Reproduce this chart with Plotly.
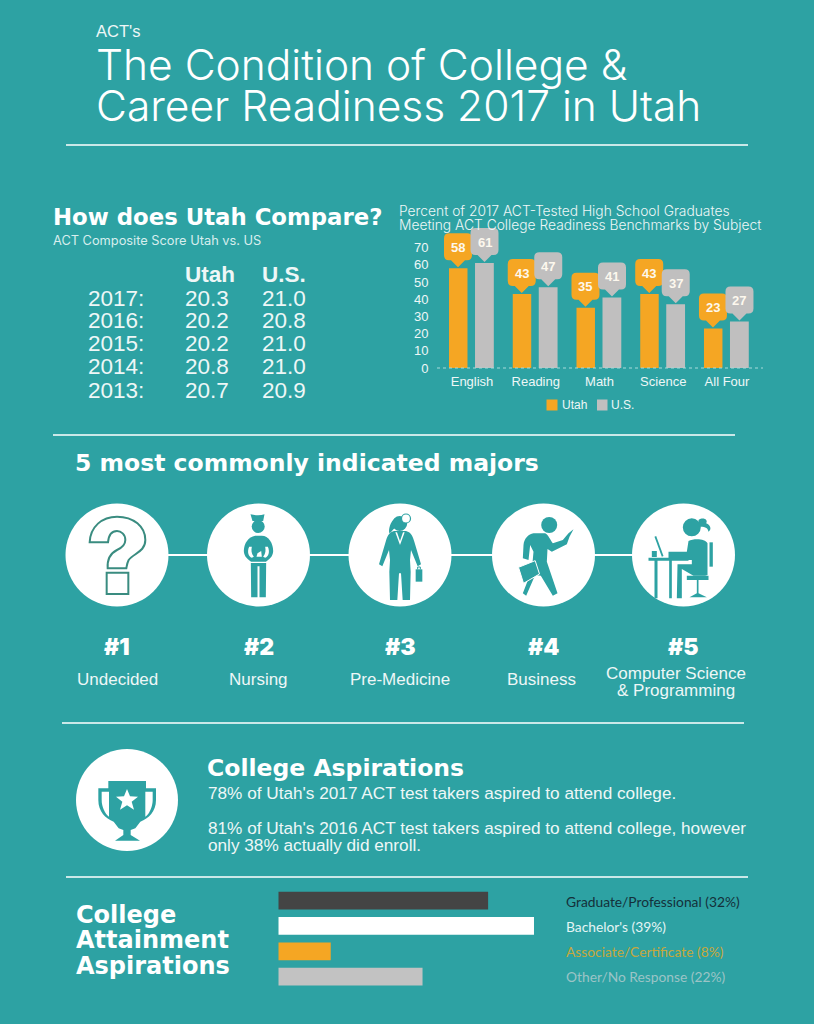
#!/usr/bin/env python3
import re
import plotly.graph_objects as go

# composite scores
years = ["2017:", "2016:", "2015:", "2014:", "2013:"]
utah_scores = ["20.3", "20.2", "20.2", "20.8", "20.7"]
us_scores = ["21.0", "20.8", "21.0", "21.0", "20.9"]

# benchmarks bar chart
subjects = ["English", "Reading", "Math", "Science", "All Four"]
utah_pct = [58, 43, 35, 43, 23]
us_pct = [61, 47, 41, 37, 27]

# majors
major_ranks = ["#1", "#2", "#3", "#4", "#5"]
major_names = [["Undecided"], ["Nursing"], ["Pre-Medicine"], ["Business"],
               ["Computer Science", "& Programming"]]

# attainment bars
attain_names = ["Graduate/Professional", "Bachelor's", "Associate/Certificate", "Other/No Response"]
attain_pct = [32, 39, 8, 22]
attain_colors = ["#444444", "#ffffff", "#f5a623", "#c2c2c2"]
attain_text = ["#14303a", "#e4f5f5", "#c6a83c", "#9cc4c6"]

TEAL = "#2da2a3"
ORANGE = "#f5a623"
GREY = "#c0bfbf"
SOFT = "#eef7f7"
W, H = 814, 1024
HEAD = "DejaVu Sans"
THIN = "Inter"
BODY = "Liberation Sans"


def dom_x(a, b):
    return [a / W, b / W]


def dom_y(top, bottom):
    return [(H - bottom) / H, (H - top) / H]


fig = go.Figure()

# upper chart, y: 1.72px per unit above the baseline at 368px
fig.add_trace(go.Bar(x=subjects, y=utah_pct, name="Utah", marker_color=ORANGE, marker_line_width=0,
                     width=0.29, offset=-0.361, xaxis="x2", yaxis="y2"))
fig.add_trace(go.Bar(x=subjects, y=us_pct, name="U.S.", marker_color=GREY, marker_line_width=0,
                     width=0.295, offset=0.047, xaxis="x2", yaxis="y2"))
# lower chart
fig.add_trace(go.Bar(x=attain_pct, y=attain_names, orientation="h", marker_color=attain_colors,
                     marker_line_width=0, width=0.7, xaxis="x3", yaxis="y3"))

shapes = []
notes = []


def text(x, y, s, size, color=SOFT, font=BODY, bold=False, anchor="left", weight=None):
    # annotations carry about 2px of padding
    notes.append(dict(x=x - 2 if anchor == "left" else x, y=y, xref="x", yref="y", text=s,
                      showarrow=False, xanchor=anchor, yanchor="middle",
                      font=dict(family=font, size=size, color=color,
                                weight=weight or (700 if bold else 400))))


def rule(x0, x1, y, width=1.5):
    shapes.append(dict(type="line", xref="x", yref="y", x0=x0, x1=x1, y0=y, y1=y,
                       line=dict(color="white", width=width)))


def place(d, cx, cy):
    # path is written in 3x px around the icon centre
    nums = iter(range(100000))

    def sub(m):
        off = cx if next(nums) % 2 == 0 else cy
        return f"{off + float(m.group()) / 3:.2f}"
    return re.sub(r"-?\d+\.?\d*", sub, d)


def draw(d, cx, cy, fill=TEAL, line=None, lw=0):
    shapes.append(dict(type="path", xref="x", yref="y", path=place(d, cx, cy),
                       fillcolor=fill, line=dict(color=line or "rgba(0,0,0,0)", width=lw)))


def dot(cx, cy, r, fill=TEAL, line=None, lw=0):
    shapes.append(dict(type="circle", xref="x", yref="y", x0=cx - r, x1=cx + r, y0=cy - r, y1=cy + r,
                       fillcolor=fill, line=dict(color=line or "rgba(0,0,0,0)", width=lw)))


# header
text(96, 31, "ACT's", 16.5)
text(96, 64, "The Condition of College &amp;", 42.5, color="white", font=THIN, weight=300)
text(96, 105, "Career Readiness 2017 in Utah", 42.5, color="white", font=THIN, weight=300)
rule(66, 748, 145)

# composite table
text(53, 217, "How does Utah Compare?", 22.8, color="white", font=HEAD, bold=True)
text(53, 240, "ACT Composite Score Utah vs. US", 12.8, color="#d8eeee", font=THIN)
text(185, 274, "Utah", 22.5, weight=800)
text(262, 274, "U.S.", 22.5, weight=800)
for i, yr in enumerate(years):
    row_y = [298, 320, 343, 366, 390][i]
    text(88, row_y, yr, 22.5)
    text(185, row_y, utah_scores[i], 22.5)
    text(262, row_y, us_scores[i], 22.5)

# bar chart heading
text(399, 211, "Percent of 2017 ACT-Tested High School Graduates", 13.8, font=THIN, weight=300)
text(399, 225, "Meeting ACT College Readiness Benchmarks by Subject", 13.8, font=THIN, weight=300)
shapes.append(dict(type="line", xref="x", yref="y", x0=437, x1=763, y0=368, y1=368,
                   line=dict(color="#a8dada", width=1, dash="dot")))

# legend of the bar chart
shapes.append(dict(type="rect", xref="x", yref="y", x0=546.5, x1=557.5, y0=399.5, y1=410.5,
                   fillcolor=ORANGE, line=dict(width=0)))
shapes.append(dict(type="rect", xref="x", yref="y", x0=597, x1=607.5, y0=399.5, y1=410.5,
                   fillcolor=GREY, line=dict(width=0)))
text(562, 405, "Utah", 12)
text(611, 405, "U.S.", 12)

# callouts sit on top of each bar, drawn in px from the bar top
BUBBLE = ("M 0 1 L -7 8 L -9 8 Q -14 8 -14 13 L -14 30 Q -14 35 -9 35 L 9 35 "
          "Q 14 35 14 30 L 14 13 Q 14 8 9 8 L 7 8 Z")
for i in range(len(subjects)):
    for vals, shift, col in ((utah_pct, -0.22, ORANGE), (us_pct, 0.196, GREY)):
        shapes.append(dict(type="path", xref="x2", yref="y2", xsizemode="pixel", ysizemode="pixel",
                           xanchor=i + shift, yanchor=vals[i], path=BUBBLE, fillcolor=col,
                           line=dict(width=0)))
        notes.append(dict(x=i + shift, y=vals[i], xref="x2", yref="y2", text=str(vals[i]),
                          showarrow=False, yshift=21,
                          font=dict(family=BODY, size=13, color="#fdf8ee", weight=700)))

# majors section
rule(53, 735, 435)
text(75, 463, "5 most commonly indicated majors", 23.5, color="white", font=HEAD, bold=True)
centers = [117, 258.5, 400, 543.5, 683.5]
label_x = [117, 258, 400, 541, 676]
rule(centers[0], centers[-1], 555, 2)
for c in centers:
    dot(c, 555, 51.5, fill="white")
for i, c in enumerate(centers):
    text(c, 647, major_ranks[i], 23, color="white", font="Inter", anchor="center", weight=900)
    lines = major_names[i]
    ys = [679] if len(lines) == 1 else [673, 690]
    for ln, ly in zip(lines, ys):
        text(label_x[i], ly, ln.replace("&", "&amp;"), 17, anchor="center")

# question mark
qc = "#3a8c80"
draw("M -82 -38 C -80 -85 -45 -115 0 -115 C 50 -115 85 -85 85 -45 C 85 -10 50 -5 35 15 "
     "C 30 25 30 30 28 40 L -28 40 C -30 10 -20 -5 0 -15 C 15 -22 25 -32 25 -45 "
     "C 25 -62 12 -72 0 -72 C -15 -72 -25 -60 -27 -38 Z", centers[0], 555, "white", qc, 2)
draw("M -31 53 L 34 53 L 34 117 L -31 117 Z", centers[0], 555, "white", qc, 2)

# nurse
c = centers[1]
draw("M -24 -122 Q 0 -116 18 -122 L 14 -102 L -18 -102 Z", c, 555)
dot(c - 0.3, 555 - 28.5, 6.5)
draw("M -10 -58 C -30 -55 -44 -35 -44 -12 C -44 5 -30 15 -22 20 L 22 20 C 30 15 44 5 44 -12 "
     "C 44 -35 30 -58 10 -58 Z", c, 555)
draw("M -28 -25 C -35 -10 -30 5 -20 8 L -14 5 C -22 -5 -22 -15 -20 -25 Z", c, 555, "white")
draw("M 28 -25 C 35 -10 30 5 20 8 L 14 5 C 22 -5 22 -15 20 -25 Z", c, 555, "white")
draw("M -3 -5 L 8 -12 L 10 5 L -6 5 Z", c, 555, "white")
draw("M -23 24 L 23 24 L 22 127 L 3 127 L 3 34 L -3 34 L -3 127 L -22 127 Z", c, 555)

# doctor
c = centers[2]
dot(c - 0.3, 555 - 31.5, 7.5)
draw("M -14 -110 C -30 -100 -35 -75 -32 -65 C -25 -70 -18 -80 -12 -85 Z", c, 555)
dot(c + 6, 555 - 36.5, 4.5, "white", TEAL, 1.2)
draw("M -18 -72 L 18 -72 C 35 -68 38 -55 43 -40 L 63 28 L 53 34 L 33 -15 L 30 15 L 32 50 L 30 135 "
     "L 8 135 L 3 55 L -3 55 L -8 135 L -30 135 L -32 50 L -30 15 L -33 -15 L -53 34 L -63 28 "
     "L -43 -40 C -38 -55 -35 -68 -18 -72 Z", c, 555)
draw("M -14 -68 L 0 -30 L 14 -68 L 9 -68 L 0 -42 L -9 -68 Z", c, 555, "white")
draw("M 47 43 L 67 43 L 67 80 L 47 80 Z", c, 555)
draw("M 53 43 L 53 36 L 61 36 L 61 43", c, 555, "rgba(0,0,0,0)", TEAL, 1)

# business
c = centers[3]
dot(c + 5.7, 555 - 30, 8)
draw("M -30 -65 L 5 -65 C 15 -60 20 -45 28 -35 L 58 -45 L 75 -65 L 90 -77 L 78 -55 L 70 -32 L 25 -10 "
     "L 12 -18 L 10 20 L 42 115 L 28 122 L -8 62 L -25 60 L -52 122 L -62 115 L -35 45 L -30 -10 "
     "L -40 -30 L -45 15 L -62 10 L -60 -30 C -58 -50 -45 -62 -30 -65 Z", c, 555)
draw("M -75 37 L -25 17 L -12 57 L -60 85 Z", c, 555, TEAL, "white", 1)

# computer user
c = centers[4]
dot(c + 8.3, 555 - 27.7, 9)
draw("M 45 -105 C 60 -115 75 -105 68 -95 C 82 -90 85 -75 75 -70 C 72 -85 62 -85 45 -85 Z", c, 555)
draw("M 15 -42 C 30 -50 65 -50 72 -35 L 72 60 L 65 62 L 30 62 L -5 42 L -5 130 L -20 130 L -18 28 "
     "L 25 28 L 25 15 L -45 15 L -45 -10 L 10 -10 Z", c, 555)
draw("M 78 -38 L 88 -38 L 88 35 L 78 35 Z", c, 555)
draw("M 10 62 L 75 62 L 75 75 L 45 75 L 45 115 L 70 127 L 18 127 L 40 115 L 40 75 L 10 75 Z", c, 555)
draw("M -105 8 L 15 8 L 15 17 L -35 17 L -35 130 L -43 130 L -43 17 L -78 17 L -78 130 L -87 130 "
     "L -87 17 L -105 17 Z", c, 555)
draw("M -87 -55 L -82 -57 L -60 3 L -65 5 Z", c, 555)
draw("M -95 -12 L -80 -12 L -80 6 L -95 6 Z", c, 555)

# aspirations section
rule(62, 744, 723)
dot(127, 800, 51, fill="white")
draw("M -86 -35 L -56 -35 L -56 -57 L 57 -57 L 57 -35 L 87 -35 L 87 0 C 87 35 65 55 40 65 "
     "L 25 85 L 11 90 L 11 105 L 39 122 L -36 122 L -11 105 L -11 90 L -25 85 L -40 65 "
     "C -65 55 -86 35 -86 0 Z", 127, 800)
draw("M -76 -25 L -54 -25 L -54 50 C -66 42 -76 20 -76 0 Z", 127, 800, "white")
draw("M 77 -25 L 55 -25 L 55 50 C 67 42 77 20 77 0 Z", 127, 800, "white")
draw("M 0 -33 L 9 -11 L 33 -10 L 14 5 L 21 29 L 0 16 L -21 29 L -14 5 L -33 -10 L -9 -11 Z", 127, 800, "white")
text(207, 768, "College Aspirations", 23.5, color="white", font=HEAD, bold=True)
text(208, 793, "78% of Utah's 2017 ACT test takers aspired to attend college.", 17.2)
text(208, 828, "81% of Utah's 2016 ACT test takers aspired to attend college, however", 17.2)
text(208, 845, "only 38% actually did enroll.", 17.2)

# attainment section
rule(66, 748, 877)
for ln, ly in zip(["College", "Attainment", "Aspirations"], [915, 940, 966]):
    text(76, ly, ln, 24, color="white", font=HEAD, bold=True)
for i, name in enumerate(attain_names):
    text(566, 901 + i * 25.3, f"{name} ({attain_pct[i]}%)", 13.8, color=attain_text[i], font="Lato")

hidden = dict(visible=False, fixedrange=True)
fig.update_layout(
    width=W, height=H, autosize=False,
    margin=dict(l=0, r=0, t=0, b=0, autoexpand=False),
    paper_bgcolor=TEAL, plot_bgcolor="rgba(0,0,0,0)",
    barmode="overlay",
    showlegend=False,
    xaxis=dict(type="linear", range=[0, W], domain=[0, 1], anchor="y", **hidden),
    yaxis=dict(type="linear", range=[H, 0], domain=[0, 1], anchor="x", **hidden),
    xaxis2=dict(domain=dom_x(440.15, 758.85), anchor="y2", showgrid=False, showline=False, zeroline=False,
                ticks="outside", ticklen=1, tickcolor="rgba(0,0,0,0)", fixedrange=True,
                categoryorder="array", categoryarray=subjects,
                tickfont=dict(family=BODY, size=13, color=SOFT)),
    yaxis2=dict(domain=dom_y(368 - 85 * 1.72, 368), range=[0, 85], anchor="x2", tickvals=[0, 10, 20, 30, 40, 50, 60, 70],
                showgrid=False, showline=False, zeroline=False, ticks="outside", ticklen=8,
                tickcolor="rgba(0,0,0,0)", fixedrange=True,
                tickfont=dict(family=BODY, size=13, color=SOFT)),
    xaxis3=dict(domain=dom_x(278.3, 534), range=[0, 39], anchor="y3", fixedrange=True,
                showgrid=False, showline=False, zeroline=False, showticklabels=False),
    yaxis3=dict(domain=dom_y(888, 989.3), anchor="x3", autorange="reversed", fixedrange=True,
                showgrid=False, showline=False, zeroline=False, showticklabels=False),
    shapes=shapes,
    annotations=notes,
)

fig.write_html("out.html", config={"displayModeBar": False},
               post_script=f"document.body.style.margin='0';document.body.style.background='{TEAL}';")
